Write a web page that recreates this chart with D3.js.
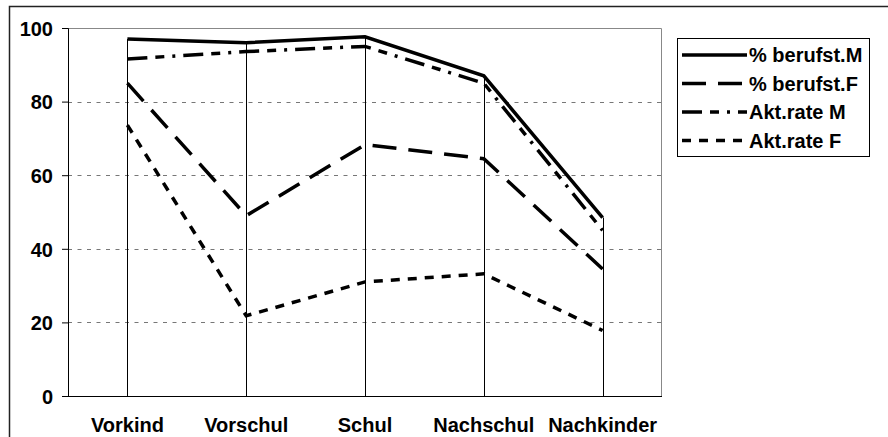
<!DOCTYPE html>
<html>
<head>
<meta charset="utf-8">
<script src="https://cdn.jsdelivr.net/npm/d3@7"></script>
<style>
  body { margin: 0; background: #fff; }
  svg text { font-family: "Liberation Sans", Arial, sans-serif; font-weight: bold; font-size: 20px; fill: #000; }
</style>
</head>
<body>
<svg id="chart" width="888" height="437"></svg>
<script>
const categories = ["Vorkind", "Vorschul", "Schul", "Nachschul", "Nachkinder"];
const seriesNames = ["% berufst.M", "% berufst.F", "Akt.rate M", "Akt.rate F"];
const berufstM = [97, 96, 97.6, 87, 48.5];
const berufstF = [85, 49, 68.3, 64.5, 34.5];
const aktRateM = [91.6, 93.6, 95, 85, 45];
const aktRateF = [73.6, 21.8, 31, 33.2, 17.8];
const yTicks = [0, 20, 40, 60, 80, 100];

const seriesValues = [berufstM, berufstF, aktRateM, aktRateF];
const dashes = [null, "24,12", "20,8,9,8,3,8", "9,8"];

const svg = d3.select("#chart"),
    width = +svg.attr("width"),
    height = +svg.attr("height"),
    plot = { left: 68, right: 662, top: 28, bottom: 396 };

// outer frame (top + left only visible)
svg.append("path")
    .attr("d", `M9.5,${height} V6.5 H${width}`)
    .attr("fill", "none")
    .attr("stroke", "#222")
    .attr("stroke-width", 1.5);

const x = d3.scaleBand()
    .domain(categories)
    .range([plot.left, plot.right]);

const cx = c => x(c) + x.bandwidth() / 2;

const y = d3.scaleLinear()
    .domain([0, 100])
    .range([plot.bottom, plot.top]);

// gridlines
svg.append("g")
    .selectAll("line")
    .data(yTicks.filter(t => t > 0 && t < 100))
    .join("line")
    .attr("x1", plot.left)
    .attr("x2", plot.right)
    .attr("y1", d => Math.round(y(d)) + 0.5)
    .attr("y2", d => Math.round(y(d)) + 0.5)
    .attr("stroke", "#777")
    .attr("stroke-dasharray", "4,5.5");

// plot area border top/right
svg.append("path")
    .attr("d", `M${plot.left},${Math.round(y(100)) + 0.5} H${plot.right - 0.5} V${plot.bottom}`)
    .attr("fill", "none")
    .attr("stroke", "#888");

// drop lines
svg.append("g")
    .selectAll("line")
    .data(categories)
    .join("line")
    .attr("x1", d => Math.round(cx(d)) + 0.5)
    .attr("x2", d => Math.round(cx(d)) + 0.5)
    .attr("y1", y(0))
    .attr("y2", (d, i) => y(d3.max(seriesValues, s => s[i])))
    .attr("stroke", "#000");

// axes
const yAxis = svg.append("g")
    .attr("transform", `translate(${plot.left},0)`)
    .call(d3.axisLeft(y).tickValues(yTicks).tickSize(6).tickPadding(9));
yAxis.select(".domain").attr("stroke", "#000");
yAxis.selectAll("text").style("font-size", "20px").attr("dy", "0.36em");

const xAxis = svg.append("g")
    .attr("transform", `translate(0,${plot.bottom})`)
    .call(d3.axisBottom(x).tickSize(0).tickPadding(22));
xAxis.select(".domain").attr("d", `M${plot.left},0.5H${plot.right}`).attr("stroke", "#000");
xAxis.selectAll("text").style("font-size", "20px");

// series lines
const line = d3.line()
    .x((d, i) => cx(categories[i]))
    .y(d => y(d));

svg.append("g")
    .selectAll("path")
    .data(seriesValues)
    .join("path")
    .attr("d", d => line(d))
    .attr("fill", "none")
    .attr("stroke", "#000")
    .attr("stroke-width", 3.5)
    .attr("stroke-linejoin", "miter")
    .attr("stroke-dasharray", (d, i) => dashes[i]);

// legend
const legend = svg.append("g");
legend.append("rect")
    .attr("x", 677.5).attr("y", 38.5)
    .attr("width", 192).attr("height", 118)
    .attr("fill", "#fff")
    .attr("stroke", "#000");

seriesNames.forEach((name, i) => {
    const ly = 55 + i * 28.5;
    legend.append("line")
        .attr("x1", 682).attr("x2", 747)
        .attr("y1", ly).attr("y2", ly)
        .attr("stroke", "#000")
        .attr("stroke-width", 3.5)
        .attr("stroke-dasharray", dashes[i]);
    legend.append("text")
        .attr("x", 749)
        .attr("y", ly + 7)
        .text(name);
});
</script>
</body>
</html>
